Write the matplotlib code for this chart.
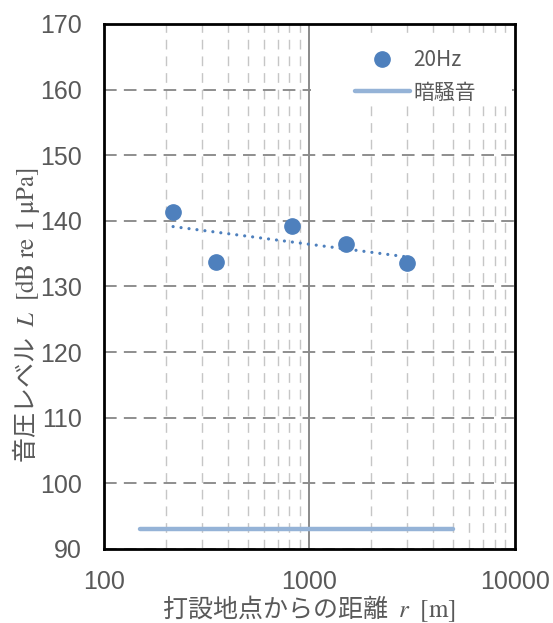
import numpy as np
import matplotlib
matplotlib.use("Agg")
import matplotlib.pyplot as plt
from matplotlib.patches import Rectangle
from matplotlib.ticker import LogLocator, NullFormatter, FixedLocator

plt.rcParams['font.family'] = ['Noto Sans CJK JP', 'DejaVu Sans']
plt.rcParams['mathtext.fontset'] = 'stix'

# measured levels at 20 Hz
distance = [217, 353, 822, 1505, 2990]
level = [141.4, 133.8, 139.2, 136.4, 133.6]

# background noise level and the span it is drawn over
noise_level = 93.0
noise_span = [150, 5000]

x_ticks = [100, 1000, 10000]
y_ticks = [90, 100, 110, 120, 130, 140, 150, 160, 170]

gray = '#595959'
blue = '#4e80bd'
light_blue = '#95b3d7'

fig = plt.figure(figsize=(5.53, 6.23), dpi=100)
ax = fig.add_axes([0.188, 0.1188, 0.743, 0.8427])

ax.set_xscale('log')
ax.set_xlim(100, 10000)
ax.set_ylim(90, 170)

# log fit for the trend line
coef = np.polyfit(np.log10(distance), level, 1)
fit_x = np.logspace(np.log10(min(distance)), np.log10(max(distance)), 50)
fit_y = np.polyval(coef, np.log10(fit_x))

ax.xaxis.set_major_locator(FixedLocator(x_ticks))
ax.xaxis.set_minor_locator(LogLocator(base=10, subs=np.arange(2, 10)))
ax.xaxis.set_minor_formatter(NullFormatter())
ax.set_xticklabels([str(t) for t in x_ticks])
ax.set_yticks(y_ticks)

ax.grid(which='minor', axis='x', color='#c6c6c6', lw=1.0, ls=(0, (7, 5)), zorder=0)
ax.grid(which='major', axis='y', color='#868686', lw=1.3, ls=(0, (7, 4)), zorder=0)
ax.axvline(1000, color='#8a8a8a', lw=1.4, zorder=1)
ax.set_axisbelow(True)

ax.tick_params(which='both', length=0)
ax.tick_params(axis='y', pad=16, labelsize=18, labelcolor=gray)
ax.tick_params(axis='x', pad=15, labelsize=18, labelcolor=gray)
for lab in ax.get_xticklabels() + ax.get_yticklabels():
    lab.set_family(['Liberation Sans', 'DejaVu Sans'])

for sp in ax.spines.values():
    sp.set_linewidth(2.0)
    sp.set_color('black')

ax.plot(fit_x, fit_y, color=blue, lw=2.3, ls=(0, (0.01, 2.5)),
        dash_capstyle='round', zorder=3)
ax.plot(distance, level, 'o', color=blue, ms=11, label='20Hz', zorder=4)
ax.plot(noise_span, [noise_level, noise_level], color=light_blue, lw=3.2,
        solid_capstyle='round', label='暗騒音', zorder=3)

# white patch behind the legend hides the grid there
ax.add_patch(Rectangle((0.505, 0.85), 0.488, 0.125, transform=ax.transAxes,
                       facecolor='white', edgecolor='none', zorder=2))
leg = ax.legend(loc='upper right', bbox_to_anchor=(0.925, 0.968), frameon=False,
                fontsize=15, handlelength=2.65, handletextpad=0.15,
                labelspacing=0.5, borderaxespad=0)
for t in leg.get_texts():
    t.set_color(gray)

ax.set_xlabel('打設地点からの距離  $\\mathit{r}\\ \\ \\mathrm{[m]}$', fontsize=18, color=gray)
ax.xaxis.set_label_coords(0.5, -0.085)
ax.set_ylabel('音圧レベル  $\\mathit{L}\\ \\ \\mathrm{[dB\\ re\\ 1\\ μPa]}$', fontsize=18, color=gray)
ax.yaxis.set_label_coords(-0.152, 0.445)

fig.savefig('out.png', dpi=100)
